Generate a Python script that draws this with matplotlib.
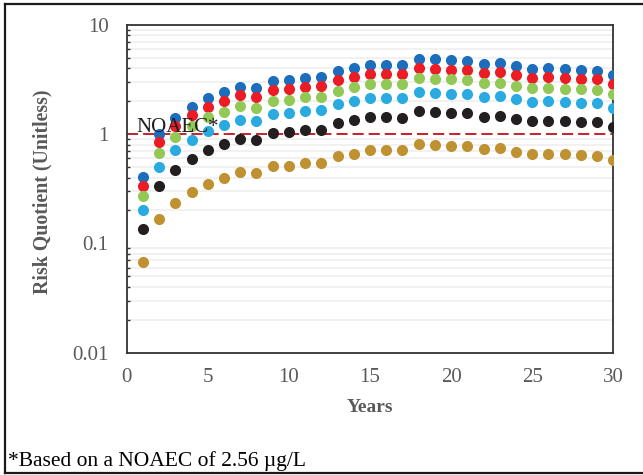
import numpy as np
import matplotlib
matplotlib.use('Agg')
import matplotlib.pyplot as plt
from matplotlib.lines import Line2D
from matplotlib.ticker import LogLocator, NullFormatter, FixedLocator, FixedFormatter

plt.rcParams['font.family'] = ['Liberation Serif', 'DejaVu Serif']
plt.rcParams['lines.scale_dashes'] = False

years = np.arange(1, 31)

# risk quotients, one list per scenario (top to bottom)
rq_blue = [0.407, 1.00, 1.41, 1.78, 2.12, 2.41, 2.71, 2.64, 3.05, 3.12,
           3.27, 3.34, 3.81, 4.03, 4.31, 4.31, 4.31, 4.89, 4.82, 4.72,
           4.70, 4.37, 4.49, 4.19, 3.96, 3.99, 3.91, 3.85, 3.80, 3.49]
rq_red = [0.336, 0.84, 1.18, 1.49, 1.77, 2.00, 2.26, 2.18, 2.53, 2.58,
          2.71, 2.73, 3.12, 3.30, 3.52, 3.52, 3.52, 3.99, 3.91, 3.85,
          3.85, 3.59, 3.69, 3.47, 3.27, 3.30, 3.25, 3.21, 3.17, 2.89]
rq_green = [0.271, 0.666, 0.933, 1.18, 1.42, 1.60, 1.80, 1.74, 2.02, 2.06,
            2.19, 2.19, 2.49, 2.67, 2.87, 2.87, 2.87, 3.23, 3.19, 3.17,
            3.12, 2.91, 2.95, 2.77, 2.62, 2.64, 2.60, 2.56, 2.53, 2.32]
rq_lightblue = [0.202, 0.502, 0.71, 0.88, 1.07, 1.20, 1.35, 1.31, 1.52, 1.56,
                1.63, 1.65, 1.89, 1.99, 2.12, 2.12, 2.12, 2.42, 2.39, 2.32,
                2.32, 2.17, 2.21, 2.09, 1.98, 2.00, 1.96, 1.93, 1.91, 1.74]
rq_black = [0.134, 0.334, 0.469, 0.59, 0.714, 0.805, 0.906, 0.88, 1.02, 1.04,
            1.09, 1.10, 1.27, 1.33, 1.42, 1.42, 1.41, 1.61, 1.58, 1.56,
            1.55, 1.44, 1.46, 1.38, 1.31, 1.32, 1.31, 1.29, 1.28, 1.17]
rq_gold = [0.0675, 0.168, 0.232, 0.292, 0.351, 0.396, 0.452, 0.437, 0.506, 0.513,
           0.543, 0.543, 0.625, 0.661, 0.714, 0.714, 0.71, 0.805, 0.788, 0.777,
           0.772, 0.724, 0.740, 0.689, 0.652, 0.661, 0.652, 0.643, 0.633, 0.582]

series = [rq_blue, rq_red, rq_green, rq_lightblue, rq_black, rq_gold]
colors = ['#1C6EBD', '#EC1C24', '#92C956', '#29ABE2', '#231F20', '#BF9130']

noaec_rq = 1.0
ytick_vals = [0.01, 0.1, 1, 10]
ytick_labels = ['0.01', '0.1', '1', '10']
xtick_vals = [0, 5, 10, 15, 20, 25, 30]

fig = plt.figure(figsize=(6.43, 4.75), dpi=100)
ax = fig.add_axes([0.197, 0.2575, 0.7568, 0.6905])

ax.set_yscale('log')
ax.set_ylim(0.01, 10)
ax.set_xlim(0, 30)

# faint minor gridlines
ax.yaxis.set_minor_locator(LogLocator(base=10, subs=np.arange(2, 10)))
ax.yaxis.set_minor_formatter(NullFormatter())
ax.grid(which='minor', axis='y', color='#EEEEEE', lw=1.1, zorder=0)

for vals, c in zip(series, colors):
    ax.plot(years, vals, 'o', color=c, ms=8, mec='none', zorder=3)

ax.axhline(noaec_rq, color='#C8202A', lw=1.4, dashes=(8, 3.6), zorder=2)
ax.text(0.57, 1.05, 'NOAEC*', fontsize=15, color='#1E1E1E', ha='left', va='baseline', zorder=4)

ax.yaxis.set_major_locator(FixedLocator(ytick_vals))
ax.yaxis.set_major_formatter(FixedFormatter(ytick_labels))
ax.set_xticks(xtick_vals)
ax.tick_params(axis='both', which='major', length=0, labelsize=15, labelcolor='#595959')
ax.tick_params(axis='y', which='major', pad=13)
ax.tick_params(axis='x', which='major', pad=11)
ax.tick_params(axis='y', which='minor', direction='in', length=2.5, width=1, color='#333333')

for s in ax.spines.values():
    s.set_color('#333333')
    s.set_linewidth(1.3)

fig.text(0.5755, 0.143, 'Years', fontsize=14, fontweight='bold', color='#595959', ha='center', va='center')
fig.text(0.066, 0.597, 'Risk Quotient (Unitless)', fontsize=14.3, fontweight='bold', color='#595959',
         rotation=90, ha='center', va='center')

fig.text(0.0124, 0.019, '*Based on a NOAEC of 2.56 \u00b5g/L', fontsize=15.5, color='black',
         ha='left', va='baseline')

# outer frame around the figure box
fig.add_artist(Line2D([0.0085, 1.0], [0.9916, 0.9916], color='#1A1A1A', lw=1.6, transform=fig.transFigure))
fig.add_artist(Line2D([0.0085, 0.0085], [0.0052, 0.9916], color='#1A1A1A', lw=1.6, transform=fig.transFigure))
fig.add_artist(Line2D([0.0085, 1.0], [0.0052, 0.0052], color='#1A1A1A', lw=1.6, transform=fig.transFigure))

fig.savefig('out.png', dpi=100)
